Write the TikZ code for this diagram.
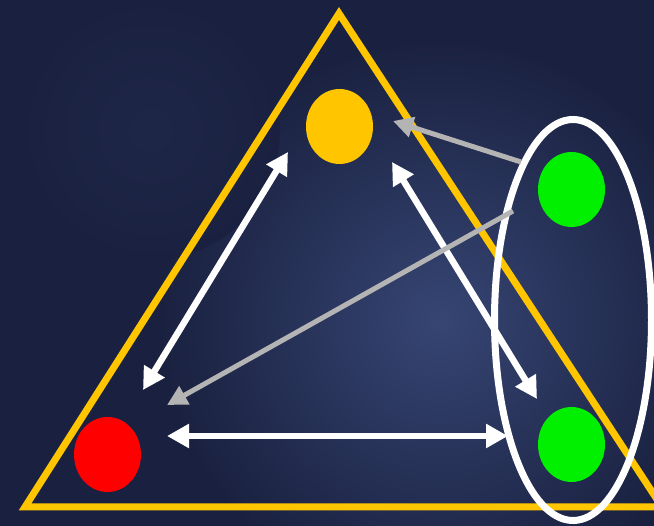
\documentclass[tikz,border=0pt]{standalone}
\usetikzlibrary{shapes.geometric,arrows.meta,calc}
\definecolor{bgdark}{HTML}{1A2140}
\definecolor{bgglow}{HTML}{364573}
\definecolor{yel}{HTML}{FFC600}
\definecolor{grn}{HTML}{00F000}
\definecolor{rd}{HTML}{FF0000}
\definecolor{gry}{HTML}{B4B4B4}
\tikzset{
  dot/.style={ellipse, minimum width=67pt, minimum height=75pt, inner sep=0pt, draw=none},
  dbl/.style={white, line width=6.5pt, {Triangle[length=22pt,width=23pt]}-{Triangle[length=22pt,width=23pt]}},
  grayarrow/.style={gry, line width=5pt, -{Triangle[length=20pt,width=20pt]}},
}
\begin{document}
\begin{tikzpicture}[x=1pt,y=-1pt]
\useasboundingbox (0,0) rectangle (654,526);
\begin{scope}
\clip (0,0) rectangle (654,526);
\fill[bgdark] (0,0) rectangle (654,526);
\shade[inner color=bgglow, outer color=bgdark] (440,320) circle (280);
\shade[inner color=bgdark!85!bgglow, outer color=bgdark] (150,130) circle (130);
% triangle
\draw[yel, line width=7pt, line join=miter] (339,13.5) -- (662,507) -- (25,507) -- cycle;
% nodes
\node[dot, fill=yel] (Y) at (339.5,126.5) {};
\node[dot, fill=grn] (G1) at (571.5,189.5) {};
\node[dot, fill=grn] (G2) at (571.5,444.5) {};
\node[dot, fill=rd] (R) at (107.5,454.5) {};
\node[ellipse, draw=white, line width=7pt, minimum width=157pt, minimum height=401pt, inner sep=0pt] (E) at (573,320) {};
% arrows
\draw[dbl] ($(Y)+(-51.5,25.5)$) -- ($(R)+(35.5,-64.5)$);
\draw[dbl] ($(Y)+(52.5,35.5)$) -- ($(G2)+(-34.5,-45.5)$);
\draw[dbl] ($(R)+(59.5,-18.5)$) -- ($(G2)+(-63.5,-8.5)$);
\draw[grayarrow] ($(G1)+(-50.5,-27.5)$) -- ($(Y)+(53.5,-5.5)$);
\draw[grayarrow] ($(G1)+(-58.5,21.5)$) -- ($(R)+(59.5,-49.5)$);
\end{scope}
\end{tikzpicture}
\end{document}
